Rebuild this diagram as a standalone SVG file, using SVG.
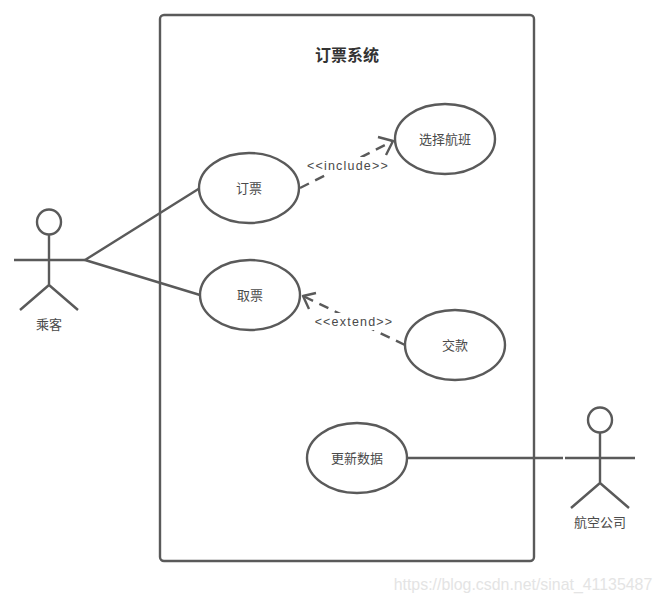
<svg xmlns="http://www.w3.org/2000/svg" width="662" height="603" viewBox="0 0 662 603">
<defs>
<style>
.s{fill:none;stroke:#5a5a5a;stroke-width:2.4;stroke-linecap:butt;stroke-linejoin:round}
.e{fill:#fff;stroke:#5a5a5a;stroke-width:2.4}
.d{fill:none;stroke:#5a5a5a;stroke-width:2.4;stroke-dasharray:10 7}
text{font-family:"Noto Sans CJK SC","Liberation Sans",sans-serif;font-size:13px;fill:#4a4a4a;text-anchor:middle}
.l{font-family:"Liberation Sans","Noto Sans CJK SC",sans-serif;font-size:12.5px;letter-spacing:1.2px}
.bg{fill:#fff}
</style>
</defs>
<rect width="662" height="603" fill="#fff"/>
<g id="system">
<rect x="160" y="15" width="374" height="546" rx="4" class="s" style="fill:#fff"/>
<text x="347" y="61" style="font-size:16px;font-weight:700;fill:#333">订票系统</text>
</g>
<g id="connectors">
<path class="s" d="M85 260L200 188M85 260L200 295"/>
<path class="d" d="M300 188L393 141"/>
<path class="s" d="M378 137L393 141L386 155"/>
<path class="d" d="M405 345L303 296"/>
<path class="s" d="M316 293L303 296L309 309"/>
<path class="s" d="M407 458H563"/>
<rect class="bg" x="306" y="157" width="83" height="17"/>
<rect class="bg" x="314" y="313" width="80" height="17"/>
<text class="l" x="348" y="170">&lt;&lt;include&gt;&gt;</text>
<text class="l" x="354" y="326">&lt;&lt;extend&gt;&gt;</text>
</g>
<g id="actor-passenger">
<ellipse cx="49" cy="222" rx="12" ry="12.5" class="s"/>
<path class="s" d="M49 234.500V285M14 260H85M20 310L49 285L78 310"/>
<text x="49" y="329">乘客</text>
</g>
<g id="actor-airline">
<ellipse cx="600" cy="420" rx="12" ry="12.500" class="s"/>
<path class="s" d="M600 432.500V483M565 458H635M571 508L600 483L629 508"/>
<text x="600" y="527">航空公司</text>
</g>
<g id="uc-book"><ellipse cx="249" cy="188" rx="50" ry="35" class="e"/><text x="249" y="193">订票</text></g>
<g id="uc-select"><ellipse cx="445" cy="139" rx="50" ry="35" class="e"/><text x="445" y="144">选择航班</text></g>
<g id="uc-cancel"><ellipse cx="250" cy="295" rx="50" ry="35" class="e"/><text x="250" y="300">取票</text></g>
<g id="uc-pay"><ellipse cx="455" cy="345" rx="50" ry="35" class="e"/><text x="455" y="350">交款</text></g>
<g id="uc-update"><ellipse cx="357" cy="458" rx="50" ry="35" class="e"/><text x="357" y="463">更新数据</text></g>
<text x="523" y="590" style="font-family:'Liberation Sans',sans-serif;font-size:15.900px;fill:#e4e4e4">https://blog.csdn.net/sinat_41135487</text>
</svg>
